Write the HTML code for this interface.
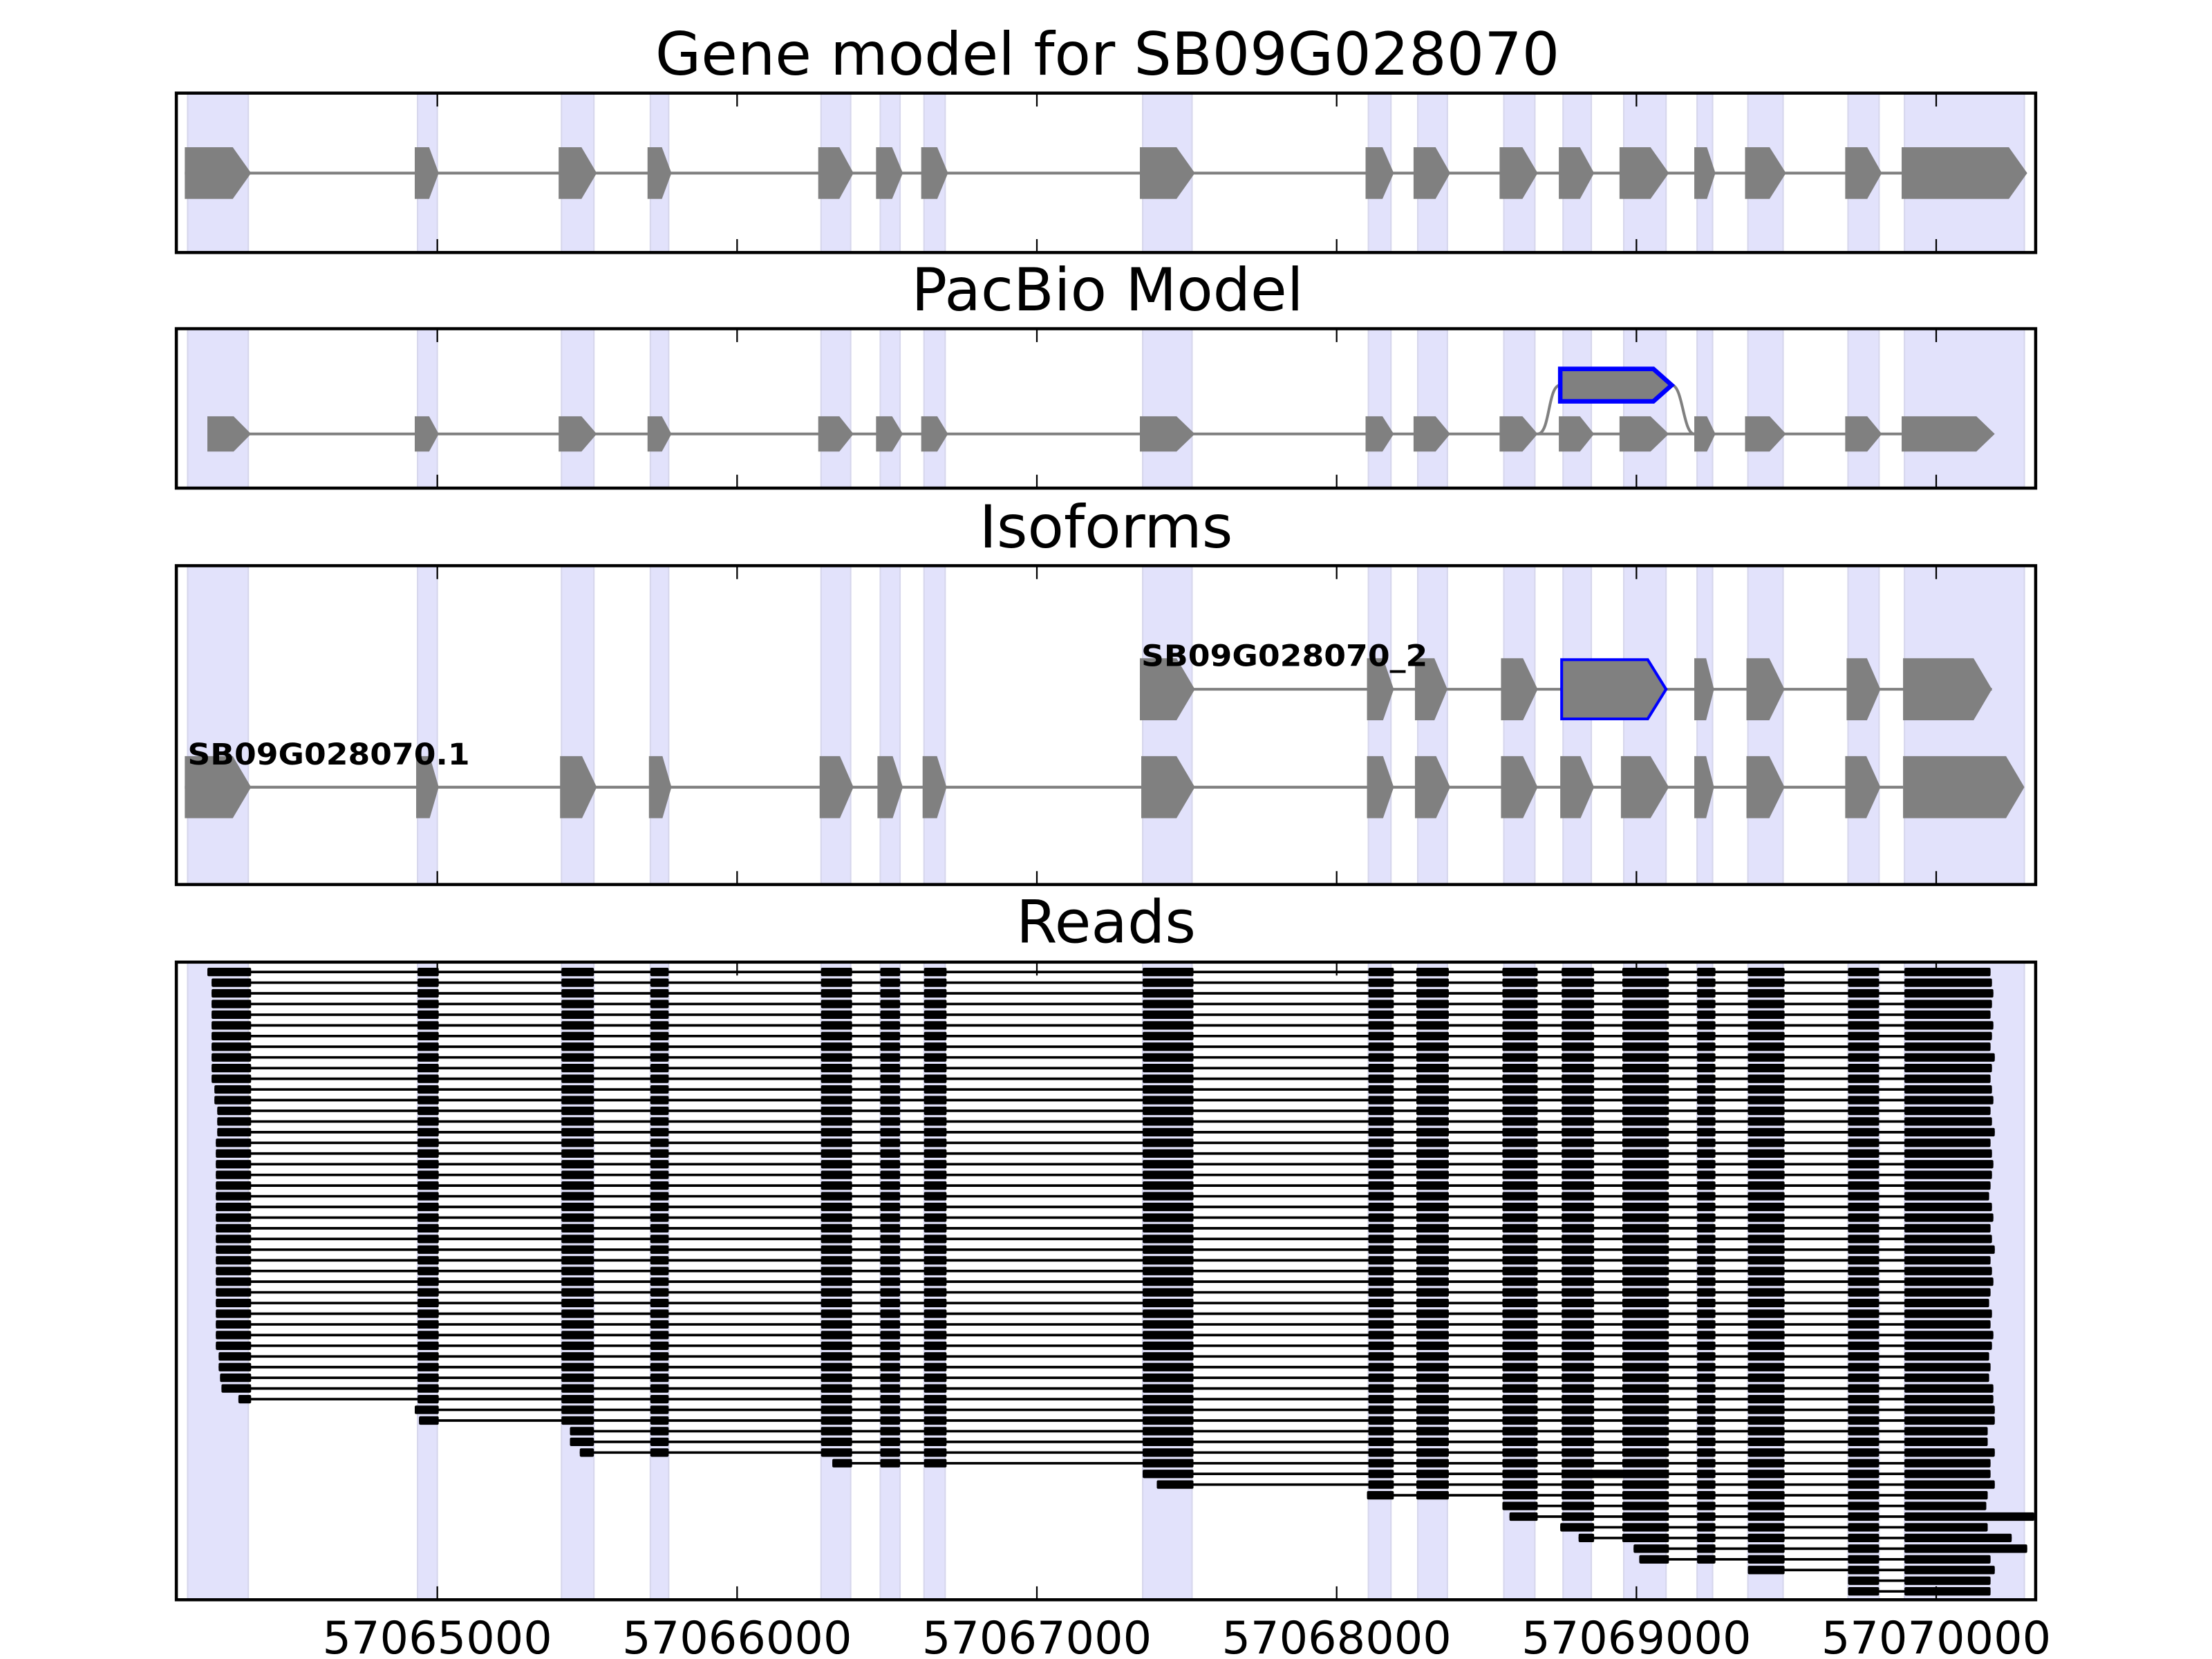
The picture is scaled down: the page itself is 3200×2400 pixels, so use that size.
<!DOCTYPE html>
<html><head><meta charset="utf-8"><style>
html,body{margin:0;padding:0;background:#fff;}
svg{display:block;}
text{font-family:"DejaVu Sans","Liberation Sans",sans-serif;}
</style></head><body>
<svg id="s" xmlns="http://www.w3.org/2000/svg" width="3200" height="2400" viewBox="0 0 1568 1176">
<rect width="1568" height="1176" fill="#fff"/>
<g id="bands"></g>
<g id="shapes"></g>
<g id="frames"></g>
<text x="785" y="53" font-size="42" text-anchor="middle">Gene model for SB09G028070</text>
<text x="785" y="220" font-size="42" text-anchor="middle">PacBio Model</text>
<text x="784" y="388" font-size="42" text-anchor="middle">Isoforms</text>
<text x="784" y="668" font-size="42" text-anchor="middle">Reads</text>
<text x="809" y="472" font-size="21" font-weight="bold" textLength="203" lengthAdjust="spacingAndGlyphs">SB09G028070_2</text>
<text x="133" y="542" font-size="21" font-weight="bold" textLength="200" lengthAdjust="spacingAndGlyphs">SB09G028070.1</text>
<g font-size="32" text-anchor="middle">
<text x="310" y="1172">57065000</text>
<text x="522.5" y="1172">57066000</text>
<text x="735" y="1172">57067000</text>
<text x="947.5" y="1172">57068000</text>
<text x="1160" y="1172">57069000</text>
<text x="1372.5" y="1172">57070000</text>
</g>
</svg>
<script>
(function(){
var NS="http://www.w3.org/2000/svg";
function el(p,n,a){var e=document.createElementNS(NS,n);for(var k in a)e.setAttribute(k,a[k]);p.appendChild(e);return e;}
var B=document.getElementById('bands'),S=document.getElementById('shapes'),F=document.getElementById('frames');
var L=125,R=1443;
var panels=[[66,179],[233,346],[401,627],[682,1134]];
var bands=[[133,176],[296,310],[398,421],[461,474],[582,603],[624,638],[655,670],[810,845],[970,986],[1005,1026],[1066,1088],[1108,1128],[1151,1181],[1203,1214],[1239,1264],[1310,1332],[1350,1435]];
panels.forEach(function(p){
  bands.forEach(function(b){
    el(B,'rect',{x:b[0],y:p[0],width:b[1]-b[0],height:p[1]-p[0],fill:'#e2e2fb',stroke:'#d6d6ec','stroke-width':1});
  });
});
var ticks=[310,522.5,735,947.5,1160,1372.5];
panels.forEach(function(p){
  el(F,'rect',{x:L,y:p[0],width:R-L,height:p[1]-p[0],fill:'none',stroke:'#000','stroke-width':2.2});
  ticks.forEach(function(t){
    el(F,'line',{x1:t,x2:t,y1:p[0],y2:p[0]+9.5,stroke:'#000','stroke-width':1.1});
    el(F,'line',{x1:t,x2:t,y1:p[1],y2:p[1]-9.5,stroke:'#000','stroke-width':1.1});
  });
});
function exon(s,e,c,h,fill,stroke,sw){
  var w=e-s,hd=Math.min(0.4*w,13),t=e-hd;
  var pts=[s+','+(c-h),t+','+(c-h),e+','+c,t+','+(c+h),s+','+(c+h)].join(' ');
  var a={points:pts,fill:fill||'#808080'};
  if(stroke){a.stroke=stroke;a['stroke-width']=sw;a['stroke-linejoin']='miter';}
  el(S,'polygon',a);
}
function model(ex,c,h){
  el(S,'line',{x1:ex[0][0],x2:ex[ex.length-1][0],y1:c,y2:c,stroke:'#808080','stroke-width':2});
  ex.forEach(function(e){exon(e[0],e[1],c,h);});
}
var g1=[[131,178],[294,311],[396,423],[459,476],[580,605],[621,640],[653,672],[808,847],[968,988],[1002,1028],[1063,1090],[1105,1130],[1148,1183],[1201,1216],[1237,1266],[1308,1334],[1348,1437]];
model(g1,122.7,18.3);
var g2=g1.map(function(e){return e.slice();});g2[0][0]=147;g2[16][1]=1414;
model(g2,307.6,12.5);
el(S,'path',{d:'M1090,307.6 C1099,307.6 1097,273 1106,273',fill:'none',stroke:'#808080','stroke-width':2});
el(S,'path',{d:'M1185,273 C1193,273 1193,307.6 1201,307.6',fill:'none',stroke:'#808080','stroke-width':2});
exon(1106,1185,273,11.5,'#808080','#0000ff',3.2);
var i1=[[808,847],[969,988],[1003,1026],[1064,1090],[1107,1181],[1201,1215],[1238,1265],[1309,1333],[1349,1412]];
el(S,'line',{x1:808,x2:1412,y1:488.6,y2:488.6,stroke:'#808080','stroke-width':2});
i1.forEach(function(e,i){ if(i==4) exon(e[0],e[1],488.6,21,'#808080','#0000ff',2); else exon(e[0],e[1],488.6,22);});
var i2=[[131,178],[295,311],[397,423],[460,476],[581,605],[622,640],[654,671],[809,847],[969,988],[1003,1028],[1064,1090],[1106,1130],[1149,1183],[1201,1215],[1238,1265],[1308,1333],[1349,1435]];
model(i2,558,22);
var ex=[[0,178],[296,311],[398,421],[461,474],[582,604],[624,638],[655,671],[810,846],[970,988],[1004,1027],[1065,1090],[1107,1130],[1150,1183],[1203,1216],[1239,1265],[1310,1332],[1350,0]];
var rows=[];
var endsA=[1411,1412,1413,1412,1411,1413,1412,1411,1414,1412,1411,1412,1413,1411,1412,1414,1411,1412,1413,1412,1411,1410,1412,1413,1411,1412,1414,1411,1412,1413,1411,1410,1412,1411,1413,1412,1410,1411,1410,1413];
for(var k=0;k<40;k++){
  var st=k==0?147:(k<=10?150:(k<=12?152:(k<=15?154:(k<=35?153:(k<=37?155:(k==38?156:157))))));
  rows.push([0,st,endsA[k]]);
}
rows.push([0,169,1413]);
rows.push([1,294,1414],[1,297,1414],[2,404,1409],[2,404,1409],[2,411,1414],[4,590,1411],[7,810,1411,1],[7,820,1414],[8,969,1409],[10,1065,1408],[10,1070,1442],[11,1106,1409],[11,1119,1426],[12,1158,1437],[12,1162,1411],[14,1239,1414],[15,1310,1411],[15,1310,1411]);
var H=6;
rows.forEach(function(r,k){
  var y=689+k*7.57;
  var si=r[0],st=r[1],en=r[2];
  el(S,'line',{x1:st,x2:en,y1:y,y2:y,stroke:'#000','stroke-width':1.8});
  for(var i=si;i<17;i++){
    var a=ex[i][0],b=ex[i][1];
    if(i==si)a=st;
    if(i==16)b=en;
    el(S,'rect',{x:a,y:y-H/2,width:b-a,height:H,rx:1,fill:'#000'});
  }
  if(r[3]) el(S,'rect',{x:1107,y:y-H/2,width:76,height:H,fill:'#000'});
});
})();
</script>
</body></html>
